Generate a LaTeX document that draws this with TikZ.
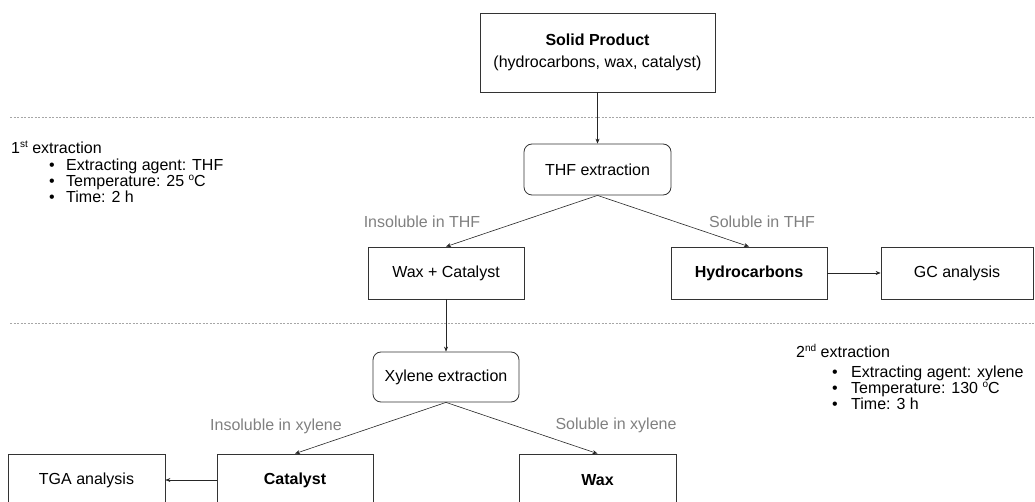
\documentclass[tikz,border=0pt]{standalone}
\usepackage{fontspec}
\setmainfont{Liberation Sans}
\usetikzlibrary{arrows.meta}
% small raised "o" used for the degree mark
\newcommand{\ringo}{\raisebox{0.36em}{\fontsize{10}{10}\selectfont o}}
\newcommand{\smallsup}[1]{\raisebox{0.36em}{\fontsize{10}{10}\selectfont #1}}
\begin{document}
\begin{tikzpicture}[x=1pt,y=-1pt,
  every node/.style={font=\fontsize{16}{19}\selectfont, inner sep=0pt},
  box/.style={draw=black!80, line width=0.8pt, minimum height=52pt, align=center},
  roundbox/.style={box, rounded corners=8pt, minimum height=51pt},
  lbl/.style={text=black!50},
  note/.style={anchor=base west},
  bullet/.style={anchor=base},
  flow/.style={draw=black!85, line width=0.6pt, -{Stealth[length=5pt,width=4pt]}},
  sep/.style={draw=black!35, line width=0.8pt, dash pattern=on 2pt off 1.5pt},
]
\useasboundingbox (0,0) rectangle (1035,502);
\clip (0,0) rectangle (1035,502);

% separators between the stages
\coordinate (s1a) at (10,117);
\coordinate (s1b) at (1035,117);
\coordinate (s2a) at (10,323);
\coordinate (s2b) at (1035,323);
\draw[sep] (s1a) -- (s1b);
\draw[sep] (s2a) -- (s2b);

% process boxes
\node[box, minimum width=235pt, minimum height=79pt] (solid) at (597.5,52.5)
  {\textbf{Solid Product}\\[3pt](hydrocarbons, wax, catalyst)};
\node[roundbox, minimum width=147pt] (thf) at (597.5,169.5) {THF extraction};
\node[box, minimum width=156pt] (waxcat) at (446,273) {Wax + Catalyst};
\node[box, minimum width=156pt] (hydro) at (749,273) {\textbf{Hydrocarbons}};
\node[box, minimum width=152pt] (gc) at (957,273) {GC analysis};
\node[roundbox, minimum width=146pt, minimum height=50pt] (xyl) at (446,377) {Xylene extraction};
\node[box, minimum width=156pt] (cat) at (295,480) {\textbf{Catalyst}};
\node[box, minimum width=157pt] (wax) at (597.5,480) {\textbf{Wax}};
\node[box, minimum width=157pt] (tga) at (86.5,480) {TGA analysis};

% branch labels
\node[lbl] (l1) at (422,222) {Insoluble in THF};
\node[lbl] (l2) at (762,222) {Soluble in THF};
\node[lbl] (l3) at (276,426) {Insoluble in xylene};
\node[lbl] (l4) at (616,425) {Soluble in xylene};

% connectors
\draw[flow] (solid.south) -- (thf.north);
\draw[flow] (thf.south) -- (waxcat.north);
\draw[flow] (thf.south) -- (hydro.north);
\draw[flow] (hydro.east) -- (gc.west);
\draw[flow] (waxcat.south) -- (xyl.north);
\draw[flow] (xyl.south) -- (cat.north);
\draw[flow] (xyl.south) -- (wax.north);
\draw[flow] (cat.west) -- (tga.east);

% conditions of the first extraction
\node[note] (n1) at (11,153.5) {1\smallsup{st} extraction};
\node[bullet] (b11) at (52,170.5) {•};
\node[note] (n11) at (66,170.5) {Extracting agent: THF};
\node[bullet] (b12) at (52,186.5) {•};
\node[note] (n12) at (66,186.5) {Temperature: 25 \ringo C};
\node[bullet] (b13) at (52,202.5) {•};
\node[note] (n13) at (66,202.5) {Time: 2 h};

% conditions of the second extraction
\node[note] (n2) at (796,357.5) {2\smallsup{nd} extraction};
\node[bullet] (b21) at (835,377) {•};
\node[note] (n21) at (851,377) {Extracting agent: xylene};
\node[bullet] (b22) at (835,393) {•};
\node[note] (n22) at (851,393) {Temperature: 130 \ringo C};
\node[bullet] (b23) at (835,409) {•};
\node[note] (n23) at (851,409) {Time: 3 h};
\end{tikzpicture}
\end{document}
